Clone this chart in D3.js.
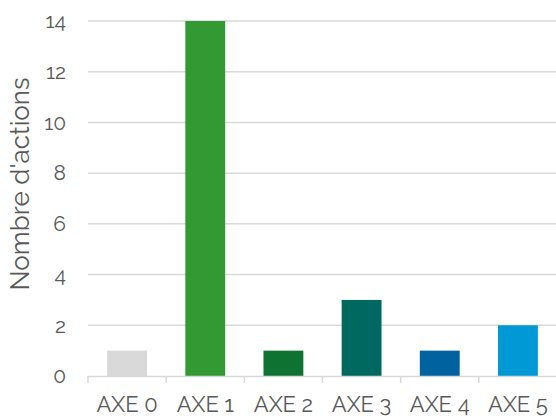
<!DOCTYPE html>
<html><head><meta charset="utf-8">
<script src="https://cdn.jsdelivr.net/npm/d3@7"></script>
<style>
html,body{margin:0;padding:0;background:#fff;overflow:hidden;}
text{font-family:Raleway,Lato,"Open Sans",sans-serif;font-weight:400;fill:#595959;}
</style></head>
<body><svg id="c" width="556" height="416"></svg>
<script>
const categories = ["AXE 0","AXE 1","AXE 2","AXE 3","AXE 4","AXE 5"];
const values = [1,14,1,3,1,2];
const colors = ["#d9d9d9","#339933","#0e7332","#00695f","#00629f","#0099d5"];
const yTicks = [0,2,4,6,8,10,12,14];
const yTitle = "Nombre d'actions";

const svg = d3.select("#c");
const m = {left:88, right:-1, top:21, bottom:40};
const W = 556, H = 416;
const x = d3.scaleBand().domain(categories).range([m.left, W - m.right]).paddingInner(0.49).paddingOuter(0.245);
const xTick = d3.scaleBand().domain(categories).range([m.left, W - m.right]);
const y = d3.scaleLinear().domain([0,14]).range([376, 21]);

svg.append("g").selectAll("line").data(yTicks.filter(d=>d>0)).join("line")
  .attr("x1", m.left).attr("x2", W)
  .attr("y1", d=>y(d)).attr("y2", d=>y(d))
  .attr("stroke","#d9d9d9").attr("stroke-width",1.5);

svg.append("g").selectAll("text").data(yTicks).join("text")
  .attr("x", 66).attr("y", d=>y(d)).attr("dy","0.35em")
  .attr("text-anchor","end").attr("font-size",21).text(d=>d);

svg.append("g").selectAll("rect").data(categories).join("rect")
  .attr("x", d=>x(d)).attr("width", x.bandwidth())
  .attr("y", (d,i)=>y(values[i])).attr("height",(d,i)=>y(0)-y(values[i]))
  .attr("fill",(d,i)=>colors[i]);

svg.append("line").attr("x1",m.left).attr("x2",W).attr("y1",y(0)+0.5).attr("y2",y(0)+0.5)
  .attr("stroke","#d9d9d9").attr("stroke-width",1.5);
svg.append("g").selectAll("line").data(categories).join("line")
  .attr("x1",d=>xTick(d)).attr("x2",d=>xTick(d))
  .attr("y1",y(0)).attr("y2",y(0)+7)
  .attr("stroke","#d9d9d9").attr("stroke-width",1.5);

svg.append("g").selectAll("text").data(categories).join("text")
  .attr("x", d=>xTick(d)+xTick.bandwidth()/2).attr("y", 412)
  .attr("text-anchor","middle").attr("font-size",22).text(d=>d);

svg.append("text").attr("transform","translate(29,184) rotate(-90)")
  .attr("text-anchor","middle").attr("font-size",26).text(yTitle);
</script></body></html>
